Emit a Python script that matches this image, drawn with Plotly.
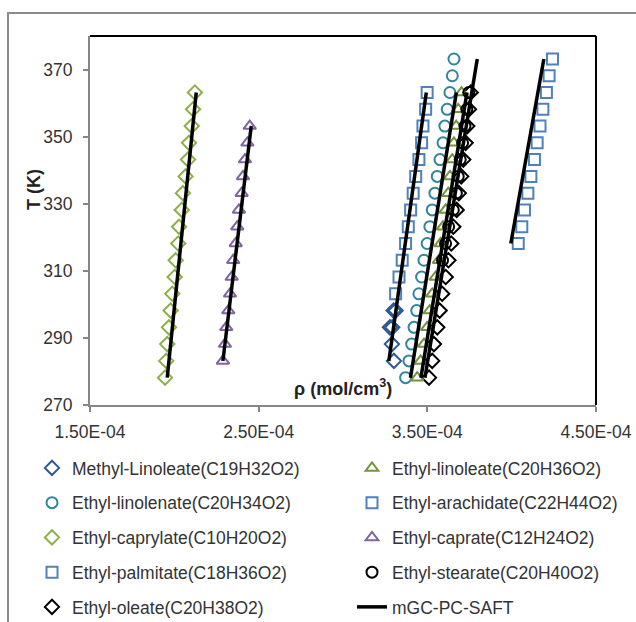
import plotly.graph_objects as go

# ---------------- data (rho in 1e-4 mol/cm3, T in K) ----------------
T_caprylate = [278.15, 283.15, 288.15, 293.15, 298.15, 303.15, 308.15, 313.15, 318.15,
               323.15, 328.15, 333.15, 338.15, 343.15, 348.15, 353.15, 358.15, 363.15]
rho_caprylate = [1.945, 1.952, 1.958, 1.968, 1.978, 1.988, 2.002, 2.008, 2.023,
                 2.028, 2.044, 2.051, 2.067, 2.081, 2.087, 2.103, 2.111, 2.122]

T_caprate = [283.15, 288.15, 293.15, 298.15, 303.15, 308.15, 313.15, 318.15,
             323.15, 328.15, 333.15, 338.15, 343.15, 348.15, 353.15]
rho_caprate = [2.288, 2.300, 2.308, 2.320, 2.330, 2.340, 2.349, 2.364,
               2.373, 2.383, 2.399, 2.407, 2.419, 2.433, 2.447]

T_methyl_linoleate = [283.15, 288.15, 293.15, 293.15, 298.15, 298.15]
rho_methyl_linoleate = [3.302, 3.290, 3.278, 3.292, 3.300, 3.312]

T_palmitate = [303.15, 308.15, 313.15, 318.15, 323.15, 328.15, 333.15, 338.15,
               343.15, 348.15, 353.15, 358.15, 363.15]
rho_palmitate = [3.312, 3.332, 3.351, 3.371, 3.387, 3.401, 3.416, 3.431,
                 3.450, 3.466, 3.474, 3.490, 3.499]

T_linolenate = [278.15, 283.15, 288.15, 293.15, 298.15, 303.15, 308.15, 313.15, 318.15, 323.15,
                328.15, 333.15, 338.15, 343.15, 348.15, 353.15, 358.15, 363.15, 368.15, 373.15]
rho_linolenate = [3.371, 3.391, 3.407, 3.421, 3.437, 3.450, 3.466, 3.480, 3.499, 3.515,
                  3.529, 3.545, 3.559, 3.575, 3.593, 3.604, 3.618, 3.634, 3.648, 3.658]

T_linoleate = [278.15, 283.15, 288.15, 293.15, 298.15, 303.15, 308.15, 313.15, 318.15,
               323.15, 328.15, 333.15, 338.15, 343.15, 348.15, 353.15, 358.15, 363.15]
rho_linoleate = [3.440, 3.460, 3.480, 3.499, 3.514, 3.529, 3.549, 3.569, 3.579,
                 3.593, 3.609, 3.624, 3.634, 3.648, 3.658, 3.671, 3.683, 3.703]

T_oleate = [278.15, 283.15, 288.15, 293.15, 298.15, 303.15, 308.15, 313.15, 318.15,
            323.15, 328.15, 333.15, 338.15, 343.15, 348.15, 353.15, 358.15, 363.15]
rho_oleate = [3.510, 3.529, 3.539, 3.559, 3.573, 3.588, 3.609, 3.625, 3.642,
              3.654, 3.674, 3.687, 3.701, 3.713, 3.727, 3.737, 3.747, 3.757]

T_stearate = [313.15, 318.15, 323.15, 328.15, 333.15, 338.15, 343.15, 348.15, 353.15, 358.15, 363.15]
rho_stearate = [3.590, 3.608, 3.626, 3.654, 3.672, 3.683, 3.695, 3.709, 3.723, 3.734, 3.746]

T_arachidate = [318.15, 323.15, 328.15, 333.15, 338.15, 343.15, 348.15, 353.15,
                358.15, 363.15, 368.15, 373.15]
rho_arachidate = [4.039, 4.060, 4.076, 4.096, 4.114, 4.135, 4.151, 4.168,
                  4.185, 4.206, 4.222, 4.242]

# mGC-PC-SAFT model curves (segments)
model_T = [[278.15, 363.15], [283.15, 353.15], [283.15, 363.15], [278.15, 363.15],
           [278.15, 363.15], [278.15, 373.15], [318.15, 373.15]]
model_rho = [[1.958, 2.130], [2.288, 2.456], [3.272, 3.494], [3.400, 3.672],
             [3.462, 3.735], [3.486, 3.796], [3.995, 4.191]]

x_tickvals = [1.5, 2.5, 3.5, 4.5]
x_ticktext = ["1.50E-04", "2.50E-04", "3.50E-04", "4.50E-04"]
y_tickvals = [270, 290, 310, 330, 350, 370]

SCALE = 1e-4

# ---------------- figure ----------------
FONT = "Liberation Sans, Arial, sans-serif"
TXT = "#333333"
W, H = 636, 622
ML, MR, MT, MB = 90, 40, 36, 217
PW, PH = W - ML - MR, H - MT - MB


def px2paper_x(px):
    return (px - ML) / PW


def px2paper_y(py):
    return (H - MB - py) / PH


fig = go.Figure()

series = [
    # name, T, rho, symbol, color, legend
    ("Methyl-Linoleate(C19H32O2)", T_methyl_linoleate, rho_methyl_linoleate, "diamond-open", "#2C5A91", "legend"),
    ("Ethyl-linolenate(C20H34O2)", T_linolenate, rho_linolenate, "circle-open", "#31859C", "legend"),
    ("Ethyl-caprylate(C10H20O2)", T_caprylate, rho_caprylate, "diamond-open", "#8DB04A", "legend"),
    ("Ethyl-palmitate(C18H36O2)", T_palmitate, rho_palmitate, "square-open", "#4F81BD", "legend"),
    ("Ethyl-oleate(C20H38O2)", T_oleate, rho_oleate, "diamond-open", "#000000", "legend"),
    ("Ethyl-linoleate(C20H36O2)", T_linoleate, rho_linoleate, "triangle-up-open", "#77933C", "legend2"),
    ("Ethyl-arachidate(C22H44O2)", T_arachidate, rho_arachidate, "square-open", "#4F81BD", "legend2"),
    ("Ethyl-caprate(C12H24O2)", T_caprate, rho_caprate, "triangle-up-open", "#8064A2", "legend2"),
    ("Ethyl-stearate(C20H40O2)", T_stearate, rho_stearate, "circle-open", "#000000", "legend2"),
]

for name, T, rho, sym, col, lg in series:
    fig.add_trace(go.Scatter(
        x=[r * SCALE for r in rho], y=T, mode="markers", name=name,
        legend=lg, legendgroup=name,
        marker=dict(symbol=sym, size=11, color=col, line=dict(width=2, color=col)),
    ))

mx, my = [], []
for Ts, rs in zip(model_T, model_rho):
    mx += [r * SCALE for r in rs] + [None]
    my += list(Ts) + [None]
fig.add_trace(go.Scatter(x=mx, y=my, mode="lines", name="mGC-PC-SAFT",
                         legend="legend2", legendgroup="model",
                         line=dict(color="black", width=3.5)))

legend_common = dict(
    orientation="v", xanchor="left", yanchor="top",
    font=dict(family=FONT, size=17.5, color=TXT),
    bgcolor="rgba(0,0,0,0)", tracegroupgap=9, itemwidth=30,
    traceorder="grouped",
)

fig.update_layout(
    width=W, height=H,
    margin=dict(l=ML, r=MR, t=MT, b=MB, autoexpand=False),
    paper_bgcolor="white", plot_bgcolor="white",
    font=dict(family=FONT, size=17.5, color=TXT),
    legend=dict(x=px2paper_x(32), y=px2paper_y(450), **legend_common),
    legend2=dict(x=px2paper_x(352), y=px2paper_y(450), **legend_common),
    xaxis=dict(
        range=[1.5 * SCALE, 4.5 * SCALE],
        tickvals=[v * SCALE for v in x_tickvals], ticktext=x_ticktext,
        showgrid=False, zeroline=False,
        showline=True, linecolor="#868686", linewidth=2,
        ticks="outside", ticklen=5, tickwidth=1.5, tickcolor="#868686",
        ticklabelstandoff=5,
        tickfont=dict(family=FONT, size=17.5, color=TXT),
    ),
    yaxis=dict(
        range=[270, 380], tickvals=y_tickvals,
        showgrid=False, zeroline=False,
        showline=True, linecolor="#868686", linewidth=2,
        ticks="outside", ticklen=5, tickwidth=1.5, tickcolor="#868686",
        ticklabelstandoff=7,
        tickfont=dict(family=FONT, size=17.5, color=TXT),
    ),
    showlegend=True,
)

# plot area black border on top and right
fig.add_shape(type="line", xref="paper", yref="paper", x0=0, x1=1, y0=1, y1=1,
              line=dict(color="black", width=2))
fig.add_shape(type="line", xref="paper", yref="paper", x0=1, x1=1, y0=0, y1=1,
              line=dict(color="black", width=2))
# outer chart border
fig.add_shape(type="rect", xref="paper", yref="paper",
              x0=px2paper_x(8), x1=px2paper_x(660), y0=px2paper_y(660), y1=px2paper_y(13),
              line=dict(color="#8C8C8C", width=2), layer="below")

# axis titles
fig.add_annotation(text="<b>T (K)</b>", xref="paper", yref="paper",
                   x=px2paper_x(34), y=px2paper_y(190), textangle=-90,
                   xanchor="center", yanchor="middle",
                   showarrow=False, font=dict(family=FONT, size=18, color="#222222"))
fig.add_annotation(text="<b>ρ (mol/cm<sup>3</sup>)</b>", xref="paper", yref="paper",
                   x=px2paper_x(343), y=px2paper_y(387),
                   xanchor="center", yanchor="middle",
                   showarrow=False, font=dict(family=FONT, size=18, color="#222222"))

fig.write_html("out.html")
